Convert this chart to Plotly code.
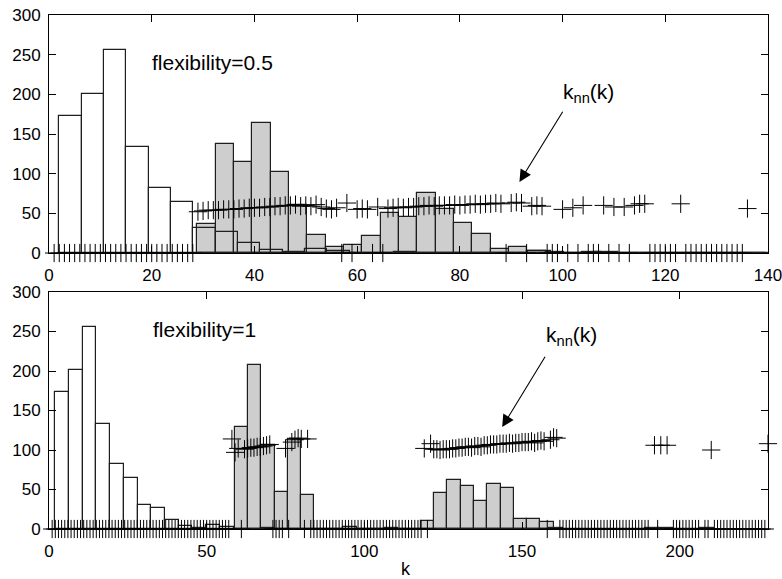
import plotly.graph_objects as go

# ---------------- data ----------------
# white histogram (same degree distribution in both panels)
white_start = 2.0
white_width = 4.35
white_counts = [173, 201, 256, 133, 82, 64, 31, 26, 12, 4, 1, 5.5, 2, 0.5, 0.5, 1,
                0.5, 0, 0, 0, 0.5, 2, 0, 0.5, 1, 0.5, 0.5, 0, 0.5, 0, 0, 0,
                0, 0, 0, 0, 1, 0, 0, 0, 0, 0, 0, 1, 1, 0, 0, 1]

# grey histogram, flexibility = 0.5
gray_top_start = 28.9
gray_top_width = 3.57
gray_top_counts = [37, 137.5, 115, 164.5, 102.5, 60.5, 22.5, 8, 10, 21, 50, 46,
                   75.5, 55, 37.5, 24, 5.5, 7, 3, 1, 0.5, 1, 0.5, 0.5, 0.5, 0.5,
                   0.5, 0.5, 0.5, 0.5, 0.3]

# grey histogram, flexibility = 1
gray_bot_start = 58.9
gray_bot_width = 4.215
gray_bot_counts = [129.5, 207.5, 106, 47, 113.5, 43, 0, 0, 0, 0, 0, 0, 0, 0,
                   10, 45, 62.5, 54, 35, 56.5, 52.5, 12.7, 12.7, 9.2]

# k_nn(k), flexibility = 0.5  (k = 1..136)
knn_top_k = list(range(1, 137))
knn_top = [0, 0, 0, 0, 0, 0, 0, 0, 0, 0,
           0, 0, 0, 0, 0, 0, 0, 0, 0, 0,
           0, 0, 0, 0, 0, 0, 0, 0,
           52, 53, 54, 54, 54, 55, 55, 55,
           56, 56, 57, 57, 57, 58, 58, 59,
           59, 60, 60, 61, 59, 60, 59, 61,
           58, 56, 55, 57, 0, 63, 0, 55,
           56, 55, 0, 58, 0, 56, 57, 58,
           57, 58, 58, 59, 59, 60, 59, 60,
           60, 60, 61, 60, 61, 61, 62, 61,
           62, 62, 63, 62, 0, 63, 64, 63,
           0, 59, 60, 59, 0, 0, 0, 55,
           0, 57, 0, 60, 0, 0, 0, 60,
           0, 58, 0, 58, 0, 60, 62, 62,
           0, 0, 0, 0, 0, 0, 62, 0,
           0, 0, 0, 0, 0, 0, 0, 0,
           0, 0, 0, 56]

# k_nn(k), flexibility = 1  (k = 1..228)
knn_bot_k = list(range(1, 229))
knn_bot = [
    0, 0, 0, 0, 0, 0, 0, 0, 0, 0,
    0, 0, 0, 0, 0, 0, 0, 0, 0, 0,
    0, 0, 0, 0, 0, 0, 0, 0, 0, 0,
    0, 0, 0, 0, 0, 0, 0, 0, 0, 0,
    0, 0, 0, 0, 0, 0, 0, 0, 0, 0,
    0, 0, 0, 0, 0, 0, 0,
    114, 97, 102, 0, 101, 102, 103, 103,
    104, 104, 105, 106, 107, 0, 0, 0,
    0, 102, 0, 110, 113, 115, 114, 0,
    114, 0, 0, 0, 0, 0, 0, 0,
    0, 0, 0, 0, 0, 0, 0, 0,
    0, 0, 0, 0, 0, 0, 0, 0,
    0, 0, 0, 0, 0, 0, 0, 0,
    0, 0, 0, 0, 0, 102, 0, 108,
    101, 101, 100, 101, 101, 101, 102, 102,
    103, 103, 104, 104, 103, 105, 105, 104,
    106, 106, 107, 107, 107, 108, 108, 108,
    109, 108, 109, 109, 110, 110, 110, 111,
    109, 111, 112, 111, 0, 113, 116, 115,
    0, 0, 0, 0, 0, 0, 0, 0,
    0, 0, 0, 0, 0, 0, 0, 0,
    0, 0, 0, 0, 0, 0, 0, 0,
    0, 0, 0, 0, 0, None, 106, 0,
    106, None, 106, None, 0, 0, 0, 0,
    0, 0, 0, 0, 0, None, 0, 0,
    100, 0, 0, 0, 0, 0, 0, 0,
    0, 0, 0, 0, 0, 0, 0, 0,
    0, 0, 108]

y_ticks = [0, 50, 100, 150, 200, 250, 300]
x_ticks_top = [0, 20, 40, 60, 80, 100, 120, 140]
x_ticks_bot = [0, 50, 100, 150, 200]

# ---------------- figure ----------------
FONT = "Liberation Sans"
GRAY = "rgb(206,206,206)"
EDGE = "rgb(30,30,30)"


def centers(start, width, counts):
    return [start + width * (i + 0.5) for i in range(len(counts))]


fig = go.Figure()

panels = [
    ("x", "y", gray_top_start, gray_top_width, gray_top_counts, knn_top_k, knn_top),
    ("x2", "y2", gray_bot_start, gray_bot_width, gray_bot_counts, knn_bot_k, knn_bot),
]
for xa, ya, gs, gw, gc, kk, kv in panels:
    fig.add_trace(go.Bar(x=centers(gs, gw, gc), y=gc, width=gw, xaxis=xa, yaxis=ya,
                         marker=dict(color=GRAY, line=dict(color=EDGE, width=1.2)),
                         showlegend=False))
    fig.add_trace(go.Bar(x=centers(white_start, white_width, white_counts), y=white_counts,
                         width=white_width, xaxis=xa, yaxis=ya,
                         marker=dict(color="rgba(0,0,0,0)", line=dict(color=EDGE, width=1.2)),
                         showlegend=False))
    fig.add_trace(go.Scatter(x=kk, y=kv, mode="markers", xaxis=xa, yaxis=ya,
                             cliponaxis=False,
                             marker=dict(symbol="cross-thin", size=13,
                                         line=dict(color="black", width=1)),
                             showlegend=False))

axis_common = dict(showline=True, linecolor="black", linewidth=1, mirror="allticks",
                   ticks="inside", ticklen=7, tickwidth=1, tickcolor="black",
                   showgrid=False, zeroline=False, automargin=False,
                   ticklabeloverflow="allow",
                   tickfont=dict(family=FONT, size=17, color="black"))

W, H = 782, 579
xdom = [49 / W, 768 / W]
fig.update_layout(
    template="none",
    width=W, height=H,
    margin=dict(l=0, r=0, t=0, b=0, pad=0),
    paper_bgcolor="white", plot_bgcolor="white",
    barmode="overlay", bargap=0,
    xaxis=dict(domain=xdom, anchor="y", range=[0, 140], tickvals=x_ticks_top,
               ticklabelstandoff=7, **axis_common),
    yaxis=dict(domain=[(H - 253) / H, (H - 15) / H], anchor="x", range=[0, 300],
               tickvals=y_ticks, ticklabelstandoff=4, **axis_common),
    xaxis2=dict(domain=xdom, anchor="y2", range=[0, 228], tickvals=x_ticks_bot,
                ticklabelstandoff=7, **axis_common),
    yaxis2=dict(domain=[(H - 529) / H, (H - 292) / H], anchor="x2", range=[0, 300],
                tickvals=y_ticks, ticklabelstandoff=4, **axis_common),
)

txt = dict(family=FONT, size=21, color="black")
annots = [
    dict(x=19.6, y=240, xref="x", yref="y", text="flexibility=0.5", showarrow=False,
         xanchor="left", yanchor="middle", font=txt),
    dict(x=32.2, y=253, xref="x2", yref="y2", text="flexibility=1", showarrow=False,
         xanchor="left", yanchor="middle", font=txt),
    dict(x=99.6, y=221, xref="x", yref="y", text="k<sub>nn</sub>(k)", showarrow=False,
         xanchor="left", yanchor="top", font=txt),
    dict(x=157.0, y=263, xref="x2", yref="y2", text="k<sub>nn</sub>(k)", showarrow=False,
         xanchor="left", yanchor="top", font=txt),
    dict(x=91.6, y=89.5, ax=100.2, ay=180, xref="x", yref="y", axref="x", ayref="y",
         text="", showarrow=True, arrowhead=2, arrowsize=2.2, arrowwidth=1.1,
         arrowcolor="black", standoff=0),
    dict(x=143.7, y=129, ax=157.6, ay=220, xref="x2", yref="y2", axref="x2", ayref="y2",
         text="", showarrow=True, arrowhead=2, arrowsize=2.2, arrowwidth=1.1,
         arrowcolor="black", standoff=0),
    dict(x=406 / W, y=1 - 569 / H, xref="paper", yref="paper", text="k", showarrow=False,
         xanchor="center", yanchor="middle", font=dict(family=FONT, size=18, color="black")),
]
fig.update_layout(annotations=annots)

fig.write_html("out.html",
               config={"displayModeBar": False},
               post_script="document.body.style.margin='0';document.body.style.overflow='hidden';")
